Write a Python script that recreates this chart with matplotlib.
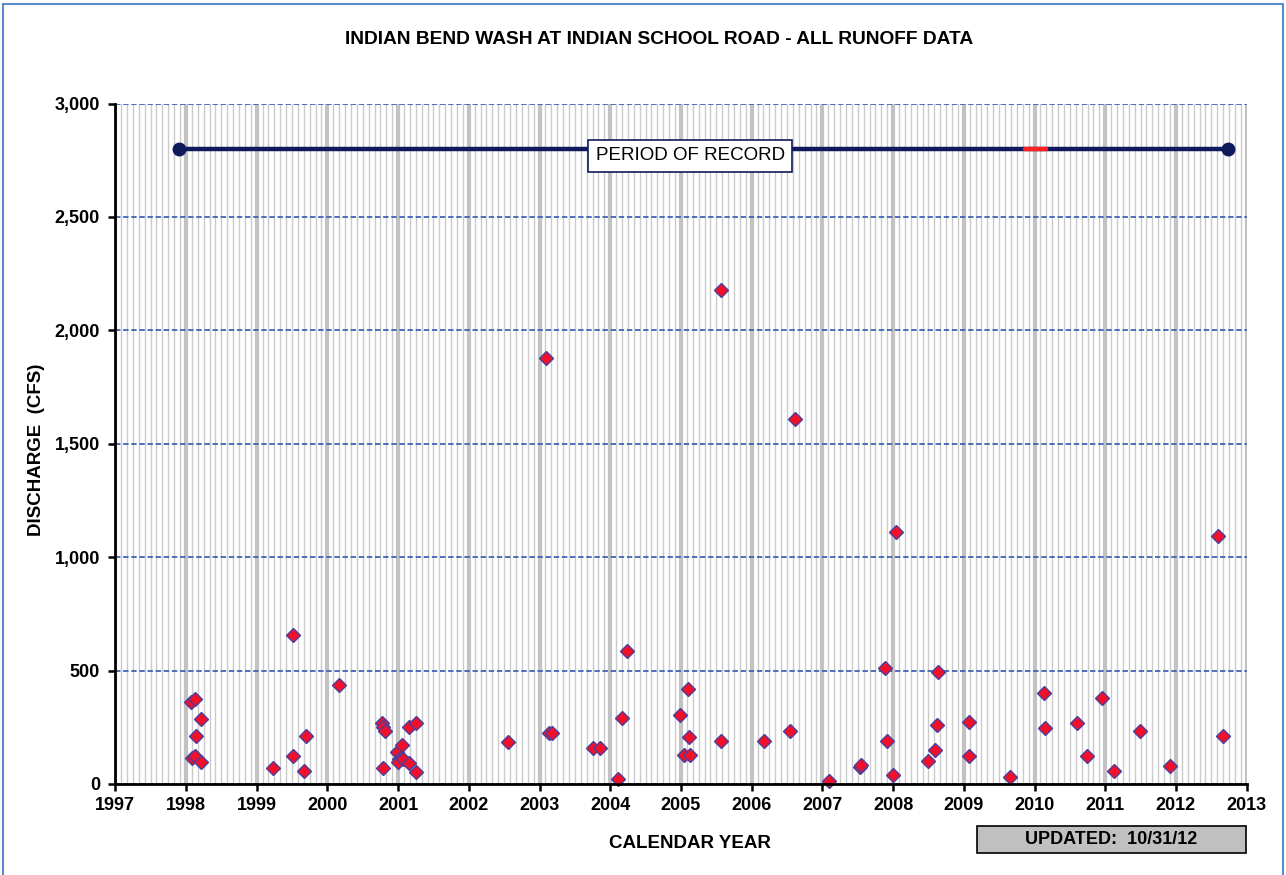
"""
Indian Bend Wash at Indian School Road - all runoff data scatter.
Writes out.png.
"""

import numpy as np
import matplotlib
matplotlib.use("Agg")
import matplotlib.pyplot as plt
from matplotlib.ticker import MultipleLocator, FuncFormatter
from matplotlib.patches import Rectangle

# ---- data (decimal year, peak discharge in cfs)
event_year = [
    1998.07, 1998.13, 1998.22, 1998.14, 1998.09, 1998.13, 1998.22,
    1999.23, 1999.51, 1999.52, 1999.67, 1999.70,
    2000.17, 2000.77, 2000.79, 2000.82, 2000.78, 2000.99,
    2001.01, 2001.00, 2001.06, 2001.07, 2001.16, 2001.16, 2001.25, 2001.26,
    2002.55,
    2003.09, 2003.13, 2003.18, 2003.76, 2003.85,
    2004.11, 2004.16, 2004.24, 2004.98,
    2005.04, 2005.10, 2005.11, 2005.13, 2005.56, 2005.57,
    2006.17, 2006.54, 2006.61,
    2007.10, 2007.53, 2007.55, 2007.89, 2007.91,
    2008.00, 2008.04, 2008.50, 2008.59, 2008.62, 2008.64,
    2009.08, 2009.08, 2009.66,
    2010.13, 2010.15, 2010.60, 2010.74, 2010.96,
    2011.12, 2011.49, 2011.91,
    2012.59, 2012.66,
]
event_cfs = [
    362, 374, 286, 211, 113, 123, 96,
    72, 656, 123, 59, 211,
    436, 267, 250, 235, 72, 142,
    109, 98, 172, 109, 250, 91, 267, 54,
    186,
    1880, 223, 223, 160, 160,
    22, 292, 587, 304,
    128, 418, 208, 128, 191, 2180,
    191, 235, 1608,
    15, 75, 85, 512, 191,
    40, 1110, 103, 150, 260, 492,
    274, 123, 29,
    400, 248, 267, 123, 380,
    59, 235, 79,
    1092, 211,
]

record_span = [1997.90, 2012.74]     # period of record
record_gap = [2009.86, 2010.16]      # red section on the record bar
record_level = 2800

year_ticks = list(range(1997, 2014))
cfs_ticks = [0, 500, 1000, 1500, 2000, 2500, 3000]

TITLE = "INDIAN BEND WASH AT INDIAN SCHOOL ROAD - ALL RUNOFF DATA"
UPDATED = "UPDATED:  10/31/12"

NAVY = "#0E1A5C"
W, H = 1286, 875

plt.rcParams.update({
    "font.family": ["Liberation Sans", "DejaVu Sans"],
    "font.weight": "bold",
    "font.size": 12,
})


def main():
    fig = plt.figure(figsize=(W / 100, H / 100), dpi=100)
    ax = fig.add_axes([0.0896, 0.104, 0.9694 - 0.0896, 0.8817 - 0.104])

    # outer chart border
    fig.patches.append(Rectangle((3 / W, -0.05), 1280 / W, 1.05 - 4 / H,
                                 transform=fig.transFigure, fill=False,
                                 edgecolor="#5B8BD0", linewidth=1.5))

    ax.set_xlim(1997, 2013)
    ax.set_ylim(0, 3000)

    # grid: monthly light lines, yearly heavy lines, dashed blue horizontals
    ax.xaxis.set_major_locator(MultipleLocator(1))
    ax.xaxis.set_minor_locator(MultipleLocator(1 / 12))
    ax.grid(axis="x", which="minor", color="#CACACA", linewidth=1.0)
    ax.grid(axis="x", which="major", color="#C2C2C2", linewidth=3.0)
    ax.set_yticks(cfs_ticks)
    ax.grid(axis="y", which="major", color="#3F63B5", linestyle=(0, (3, 1.5)),
            linewidth=1.3)
    ax.set_axisbelow(True)

    ax.set_xticks(year_ticks)
    ax.set_xticklabels([str(y) for y in year_ticks])
    ax.yaxis.set_major_formatter(FuncFormatter(lambda v, _: f"{int(v):,}"))
    ax.tick_params(axis="x", which="minor", length=0)
    ax.tick_params(axis="both", which="major", length=5, width=1.8,
                   direction="out", labelsize=13, colors="black")
    ax.tick_params(axis="x", pad=4)
    ax.tick_params(axis="y", pad=6)

    for side in ("top", "right"):
        ax.spines[side].set_visible(False)
    for side in ("left", "bottom"):
        ax.spines[side].set_linewidth(2.0)
        ax.spines[side].set_zorder(5)

    # period-of-record bar
    ax.plot(record_span, [record_level] * 2, color=NAVY, linewidth=3.2,
            marker="o", markersize=9, solid_capstyle="butt", zorder=4)
    ax.plot(record_gap, [record_level] * 2, color="#FF2020", linewidth=3.2,
            solid_capstyle="round", zorder=4)
    ax.text(2005.13, record_level - 30, "PERIOD OF RECORD", ha="center",
            va="center", fontsize=13.5, fontweight="normal", zorder=6,
            bbox=dict(boxstyle="square,pad=0.4", facecolor="white",
                      edgecolor=NAVY, linewidth=1.2))

    # runoff events
    ax.plot(event_year, event_cfs, linestyle="none", marker="D", markersize=7.2,
            markerfacecolor="#F0102A", markeredgecolor="#4B3F9E",
            markeredgewidth=1.0, zorder=5, clip_on=False)

    fig.text(690 / W, 1 - 843 / H, "CALENDAR YEAR", ha="center", va="center",
             fontsize=13.5, fontweight="bold")
    fig.text(37 / W, 1 - 450 / H, "DISCHARGE  (CFS)", ha="center", va="center",
             rotation=90, fontsize=13.5, fontweight="bold")
    fig.text(659 / W, 1 - 40 / H, TITLE, ha="center", va="center",
             fontsize=13.8, fontweight="bold")

    # "updated" stamp box
    fig.patches.append(Rectangle((977 / W, 1 - 853 / H), 269 / W, 27 / H,
                                 transform=fig.transFigure, facecolor="#C0C0C0",
                                 edgecolor="black", linewidth=1.2))
    fig.text(1111 / W, 1 - 840 / H, UPDATED, ha="center", va="center",
             fontsize=13, fontweight="bold")

    fig.savefig("out.png", dpi=100)
    plt.close(fig)


if __name__ == "__main__":
    main()
